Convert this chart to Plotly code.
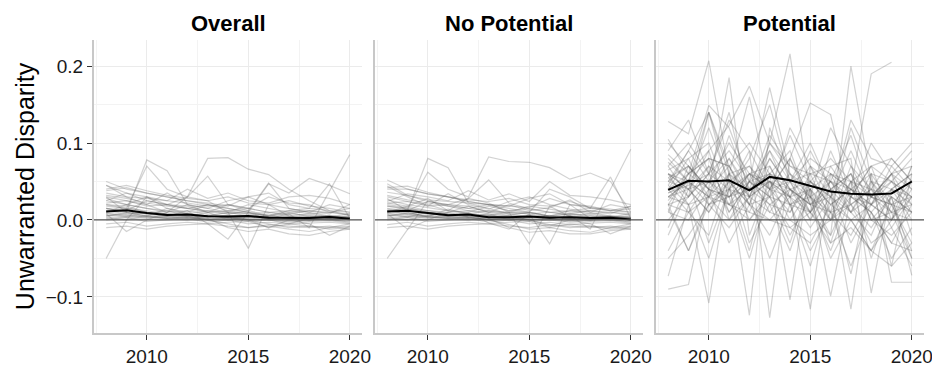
import plotly.graph_objects as go

years = [2008, 2009, 2010, 2011, 2012, 2013, 2014, 2015, 2016, 2017, 2018, 2019, 2020]
panel_titles = ["Overall", "No Potential", "Potential"]
y_title = "Unwarranted Disparity"
x_ticks = [2010, 2015, 2020]
y_ticks = [-0.1, 0.0, 0.1, 0.2]

overall_mean = [.011, .0125, .009, .0066, .007, .0048, .0044, .005, .003, .003, .0026, .004, .0017]
nopot_mean = [.011, .012, .009, .006, .007, .0035, .0035, .0044, .003, .0035, .0026, .003, .0005]
pot_mean = [.039, .051, .050, .0515, .0384, .056, .0515, .044, .037, .034, .033, .0345, .050]

overall_series = [
    [-.050, .000, .030, .020, .015, .010, .008, .012, .006, .010, .004, .006, .003],
    [.030, .010, .078, .064, .020, .015, .010, .005, .008, .000, .004, .002, .000],
    [.020, .015, .070, .040, .030, .080, .081, .066, .059, .040, .025, .012, .006],
    [.015, .010, .008, .012, .005, .010, .000, .005, .002, .008, -.010, .037, .085],
    [.010, .020, .015, .010, .020, .010, .012, .008, .010, .012, .015, .047, .002],
    [.025, .020, .030, .015, .010, .020, .015, .010, .047, .035, .054, .045, .034],
    [.045, .035, .025, .020, .030, .057, .020, .015, .010, .005, .008, .010, .008],
    [.005, .010, .005, .015, .008, .012, .010, -.037, .020, .005, .000, .003, .005],
    [.012, .008, .010, .005, .012, -.005, -.025, .010, .000, -.005, .002, .005, .003],
    [.050, .040, .035, .030, .025, .020, .015, .010, .005, .012, .008, .004, .002],
    [.040, .045, .038, .032, .028, .025, .030, .022, .020, .025, .018, .015, .010],
    [.035, .030, .028, .025, .022, .018, .020, .015, .030, .022, .020, .010, .015],
    [.030, .025, .020, .010, .030, .025, .010, .020, .015, .010, .012, .008, .020],
    [.028, .020, .015, .012, .008, .005, .010, .008, .005, .003, .000, .005, .000],
    [.020, .018, .010, .008, .005, .000, -.005, -.010, -.008, -.012, -.015, -.010, -.008],
    [.018, .015, .010, .005, .005, .002, -.010, -.015, -.012, -.018, -.020, -.015, -.012],
    [.015, .010, .005, .002, .000, .005, .003, .000, -.005, -.010, -.008, -.012, -.010],
    [.012, .015, .012, .008, .006, .004, .005, .006, .003, .004, .005, .002, .003],
    [.010, .012, .008, .006, .008, .006, .004, .003, .005, .002, .003, .005, .001],
    [.008, .005, .010, .007, .004, .003, .006, .004, .002, .005, .003, .002, .004],
    [.005, .008, .003, .005, .003, .006, .002, .005, .004, .003, .002, .004, .000],
    [.003, .000, .005, .002, .004, .000, .003, .000, .002, -.002, .000, .001, -.003],
    [.000, .003, -.002, .000, .002, -.003, .000, -.005, -.003, -.005, -.004, -.003, -.005],
    [-.005, -.003, -.008, -.005, -.003, -.005, -.008, -.010, -.006, -.008, -.010, -.008, -.012],
    [-.010, -.008, -.012, -.008, -.006, -.005, -.003, -.002, -.010, -.005, -.008, -.010, -.005],
    [.045, .030, .020, .035, .020, .015, .025, .030, .020, .015, .010, .020, .015],
    [.025, .035, .030, .025, .040, .028, .035, .025, .022, .030, .032, .028, .020],
    [.038, .042, .035, .030, .025, .022, .018, .030, .035, .020, .015, .012, .010],
    [.022, .025, .018, .020, .015, .012, .008, .010, .005, .008, .006, .004, .008],
    [.008, -.015, .000, .010, .012, .008, .005, .000, -.010, .000, -.005, -.020, -.008],
    [.015, .012, .025, .020, .018, .010, .020, .012, .048, .015, .010, .005, .003],
    [.032, .028, .022, .018, .015, .020, .012, .015, .010, .008, .012, .010, .006],
    [.006, .004, .002, .003, .001, .002, .000, .002, .001, .000, .001, .000, -.002],
    [.002, .004, .006, .004, .002, .001, .003, .001, .000, .001, -.001, .002, .001],
    [.009, .006, .004, .002, .003, .000, .002, -.002, .000, -.003, -.002, -.001, -.004],
]

nopot_series = [
    [-.050, -.012, .025, .018, .012, .010, .006, .010, .005, .008, .004, .005, .002],
    [.028, .012, .080, .068, .022, .015, .008, .004, .006, .000, .003, .002, .000],
    [.018, .015, .062, .040, .030, .082, .076, .075, .068, .053, .061, .050, .010],
    [.012, .008, .006, .010, .004, .008, .000, .004, .002, .006, -.012, .040, .092],
    [.010, .018, .012, .010, .018, .010, .010, .008, .010, .012, .015, .056, .002],
    [.022, .018, .028, .012, .010, .018, .012, .010, .040, .030, .015, .012, .018],
    [.047, .032, .024, .020, .028, .052, .022, .014, .010, .006, .008, .010, .008],
    [.005, .010, .004, .014, .008, .012, .010, -.031, .018, .004, .000, .003, .005],
    [.012, .008, .010, .006, .010, -.004, -.012, .008, -.031, .020, .002, .005, .003],
    [.052, .040, .034, .030, .024, .020, .015, .010, .005, .012, .008, .004, .002],
    [.042, .044, .036, .030, .026, .024, .028, .020, .018, .024, .016, .014, .010],
    [.036, .032, .026, .024, .022, .020, .018, .016, .028, .020, .018, .012, .014],
    [.030, .024, .020, .012, .028, .022, .010, .018, .014, .010, .012, .008, .018],
    [.026, .020, .016, .012, .008, .006, .010, .008, .004, .002, .000, .004, .000],
    [.020, .016, .010, .008, .004, .000, -.006, -.012, -.010, -.014, -.016, -.010, -.008],
    [.018, .014, .010, .004, .006, .002, -.010, -.016, -.014, -.018, -.018, -.014, -.012],
    [.014, .010, .004, .002, .000, .004, .002, .000, -.006, -.010, -.008, -.012, -.010],
    [.012, .014, .012, .008, .006, .004, .004, .006, .003, .004, .005, .002, .003],
    [.010, .012, .008, .006, .008, .006, .004, .003, .005, .002, .003, .005, .001],
    [.008, .004, .010, .007, .004, .003, .006, .004, .002, .005, .003, .002, .004],
    [.005, .008, .003, .005, .003, .006, .002, .005, .004, .003, .002, .004, .000],
    [.003, .000, .005, .002, .004, .000, .003, .000, .002, -.002, .000, .001, -.003],
    [.000, .003, -.002, .000, .002, -.003, .000, -.005, -.003, -.006, -.004, -.003, -.005],
    [-.006, -.003, -.008, -.005, -.003, -.005, -.008, -.010, -.006, -.008, -.010, -.008, -.012],
    [-.010, -.008, -.012, -.008, -.006, -.005, -.003, -.002, -.010, -.005, -.008, -.010, -.005],
    [.044, .030, .018, .034, .020, .014, .024, .030, .020, .014, .010, .020, .015],
    [.024, .034, .030, .025, .038, .026, .034, .024, .050, .032, .030, .026, .020],
    [.040, .040, .034, .030, .024, .020, .018, .028, .034, .020, .016, .012, .010],
    [.022, .024, .018, .020, .015, .012, .008, .010, .005, .008, .006, .004, .008],
    [.008, -.012, .000, .010, .012, .008, .005, .000, -.008, .000, -.005, -.018, -.008],
    [.015, .012, .024, .020, .018, .010, .020, .012, .016, .026, .010, .005, .003],
    [.032, .026, .022, .018, .015, .020, .012, .015, .010, .008, .012, .010, .006],
    [.006, .004, .002, .003, .001, .002, .000, .002, .001, .000, .001, .000, -.002],
    [.002, .004, .006, .004, .002, .001, .003, .001, .000, .001, -.001, .002, .001],
    [.009, .006, .004, .002, .003, .000, .002, -.002, .000, -.003, -.002, -.001, -.004],
]

pot_series = [
    [.128, .112, .207, .060, .030, .080, .040, .010, .050, .030, .020, .060, .040],
    [.105, .060, .149, .120, .050, .172, .060, .030, .000, .070, .040, -.010, .030],
    [-.090, -.084, .040, .185, -.020, .050, .020, .040, .060, .010, .030, .020, .050],
    [-.073, .020, -.108, .060, .160, .040, .080, .152, .137, .020, -.010, .030, .010],
    [.060, .040, .090, .123, .174, .100, .216, .030, -.020, .200, .050, .010, .070],
    [.050, .090, .050, .030, .040, .060, .030, -.116, .060, .040, .190, .205, None],
    [.040, .080, .020, .050, -.124, .120, .050, .010, .040, -.030, .020, .040, .030],
    [.070, .030, .060, .040, .090, -.127, .080, .020, .030, .060, .000, .010, .020],
    [.020, .060, .080, .010, .050, .060, -.104, .070, .010, .050, .030, .060, -.020],
    [.030, .050, .140, .070, .020, .030, .060, .040, -.099, .030, .070, .000, .040],
    [.045, .020, .030, .080, .040, .050, .030, .090, .040, -.116, .060, .050, .010],
    [.010, .070, .040, .020, .060, .010, .050, .000, .070, .080, -.095, .040, .060],
    [.060, .040, .070, .050, .020, .080, .040, .050, .020, .040, .060, -.081, -.081],
    [.080, .050, .030, .060, .070, .040, .010, .060, .050, .020, .040, .030, -.072],
    [.090, .130, .060, .140, .030, .100, .070, .050, .030, .010, .050, .020, .030],
    [.035, .045, .060, .090, .050, .030, .020, .010, .060, .040, .030, .050, .080],
    [.055, .030, .140, .040, .080, .150, .050, .030, .120, .070, .020, .000, .050],
    [.025, .060, .040, .070, .030, .090, .030, .040, .000, .030, .010, .040, .020],
    [.065, .080, .100, .030, .060, .050, .040, .020, .050, .110, .030, .060, .090],
    [.015, -.040, .020, .030, -.050, .040, -.020, .030, -.050, .000, -.040, .020, -.040],
    [.040, .010, .050, .020, .040, .020, .010, .050, .080, .050, .000, -.020, .010],
    [.075, .050, .120, .050, .070, .030, .120, .070, .030, .130, .080, .070, .100],
    [.050, .070, .030, .110, .040, .060, .090, .020, .010, .020, .040, .010, .000],
    [.030, .020, -.050, .040, .010, .070, .020, -.060, .030, -.070, .050, -.060, .060],
    [.000, .030, .060, .010, .050, .020, .040, .000, .040, .010, .060, .020, -.030],
    [-.020, .040, .010, .050, .020, .000, .030, .010, -.020, .040, .010, -.030, .020],
    [.020, -.040, .030, .000, .030, .050, .000, .040, .010, -.020, .030, .010, -.050],
    [-.040, .010, -.020, .060, .000, .030, -.010, -.030, .020, .000, -.040, .000, .030],
    [.010, .000, .040, -.030, .020, -.020, .040, .020, -.040, .030, .010, -.050, -.010],
    [.085, .060, .080, .070, .100, .060, .050, .080, .060, .050, .070, .080, .050],
    [.045, .090, .140, .060, .040, .110, .070, .060, .070, .030, .100, .060, .070],
    [.060, .020, .050, .100, .060, .040, .110, .050, .020, .040, .020, .050, .030],
    [.035, .050, -.030, .040, .060, .070, .020, .030, .050, .010, -.020, .040, .000],
    [.100, .070, .040, .030, .050, .090, .050, .100, .040, .060, .030, .020, .010],
    [.020, .030, .070, .020, .000, .040, .030, -.010, .030, .000, .020, .070, .040],
    [.050, .040, .010, .060, -.030, .020, -.040, .040, -.030, .050, -.050, .030, -.050],
    [.070, .100, .060, .130, .090, .040, .080, .030, .010, .120, .050, .040, .060],
    [-.010, .050, .030, .040, -.040, .060, .040, .020, .040, .060, .000, .030, .010],
    [.040, .060, .090, .000, .050, .030, -.030, .050, .030, .090, .030, .060, .020],
    [.030, .040, .050, .080, .030, .050, .030, .070, .050, .040, .020, .000, .070],
    [.060, .050, .080, .070, .020, .100, .060, .010, .090, .030, .070, .050, .030],
    [-.050, -.020, .020, -.010, .030, -.050, .020, -.040, .010, -.060, .010, -.030, -.040],
    [.055, .070, .040, .030, .060, .040, .050, .060, .000, .050, .040, .080, .050],
    [.020, .010, .030, .020, .010, .000, -.010, .010, -.030, -.010, -.040, -.060, -.030],
    [.030, .050, .020, .040, .030, .010, .000, -.020, .000, .020, -.030, -.010, -.060],
]

panels = [
    (overall_series, overall_mean),
    (nopot_series, nopot_mean),
    (pot_series, pot_mean),
]

FONT = "Liberation Sans, Arial, Helvetica, sans-serif"
GRID = "#EBEBEB"
AXLINE = "#C8C8C8"

fig = go.Figure()
domains = [[0.0, 0.3229], [0.3386, 0.6614], [0.6771, 1.0]]

for i, (series, mean) in enumerate(panels):
    xa = "x" if i == 0 else f"x{i+1}"
    ya = "y" if i == 0 else f"y{i+1}"
    for s in series:
        fig.add_trace(go.Scatter(
            x=years, y=s, xaxis=xa, yaxis=ya, mode="lines",
            line=dict(color="rgba(90,90,90,0.27)", width=1.2),
            hoverinfo="skip", showlegend=False, connectgaps=False))
    fig.add_trace(go.Scatter(
        x=years, y=mean, xaxis=xa, yaxis=ya, mode="lines",
        line=dict(color="black", width=2), hoverinfo="skip", showlegend=False))
    fig.add_shape(type="line", xref=f"{xa} domain", yref=ya, x0=0, x1=1, y0=0, y1=0,
                  line=dict(color="#555555", width=1.3), layer="above")

    xkey = "xaxis" if i == 0 else f"xaxis{i+1}"
    ykey = "yaxis" if i == 0 else f"yaxis{i+1}"
    fig.update_layout({
        xkey: dict(
            domain=domains[i], anchor=ya, range=[2007.4, 2020.6], automargin=False,
            tickvals=x_ticks, ticks="outside", ticklen=5, tickwidth=1, tickcolor="#333333",
            showline=True, linecolor=AXLINE, linewidth=2,
            showgrid=True, gridcolor=GRID, gridwidth=1, zeroline=False,
            minor=dict(dtick=2.5, tick0=2007.5, showgrid=True, gridcolor="#F3F3F3", gridwidth=1),
            tickfont=dict(size=19, color="#1A1A1A", family=FONT),
        ),
        ykey: dict(
            anchor=xa, range=[-0.147, 0.234], domain=[0, 1], automargin=False,
            tickvals=y_ticks, tickformat=".1f",
            ticks="outside" if i == 0 else "", ticklen=5, tickwidth=1, tickcolor="#333333",
            showticklabels=(i == 0),
            showline=True, linecolor=AXLINE, linewidth=2,
            showgrid=True, gridcolor=GRID, gridwidth=1, zeroline=False,
            minor=dict(dtick=0.05, tick0=0.05, showgrid=True, gridcolor="#F3F3F3", gridwidth=1),
            tickfont=dict(size=19, color="#1A1A1A", family=FONT),
            matches=None if i == 0 else "y",
        ),
    })
    fig.add_annotation(
        text=f"<b>{panel_titles[i]}</b>", xref=f"{xa} domain", yref="paper",
        x=0.5, y=1.0, yshift=17, xanchor="center", yanchor="middle", showarrow=False,
        font=dict(size=22, color="black", family=FONT))

# the page body adds an 8px margin, so the figure is sized/offset to compensate
fig.update_layout(
    width=932, height=361,
    margin=dict(l=86, r=16, t=32, b=36),
    paper_bgcolor="white", plot_bgcolor="white",
    font=dict(family=FONT, color="black"),
)
fig.update_layout(yaxis_title=dict(text=y_title, font=dict(size=25, color="black", family=FONT), standoff=4))

fig.write_html("out.html")
